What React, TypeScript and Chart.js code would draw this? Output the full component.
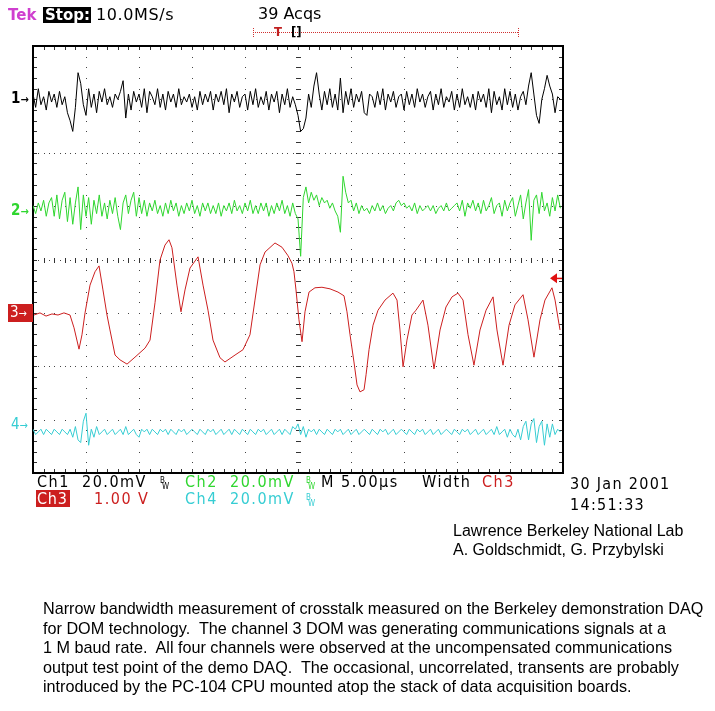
import React, { useEffect, useRef } from "react";
import { Chart, registerables } from "chart.js";
Chart.register(...registerables);

// ---- acquisition settings ----
const SAMPLE_US = 0.25; // µs between plotted samples
const TIME_PER_DIV_US = 5;
const CH1_MV_PER_DIV = 20;
const CH2_MV_PER_DIV = 20;
const CH3_V_PER_DIV = 1;
const CH4_MV_PER_DIV = 20;
const CH1_POS_DIV = 3.0;
const CH2_POS_DIV = 0.96;
const CH3_POS_DIV = -1.03;
const CH4_POS_DIV = -3.23;
const TRIGGER_LEVEL_V = 0.68;

// ---- channel 1 (mV) ----
const CH1_MV = [
  2, -3, 4, -2, 1, -4, 3, -1, 2, -3,
  3, -2, 1, -5, -8, -12, -3, 10, 6, -2,
  -6, 4, -3, 2, -5, 3, -1, 4, -2, 1,
  -3, 2, 0, 3, 7, -7, 2, -4, 3, -1,
  2, -3, 4, -5, 3, 1, -2, 4, -3, 2,
  -4, 3, -1, 2, -3, 4, -2, 1, -1, 2,
  -3, 1, -4, 3, -2, 2, -1, 3, -4, 2,
  -1, 3, -2, 4, -5, 2, -1, 3, -3, 1,
  2, -4, 3, -2, 4, -3, 1, -2, 3, -4,
  2, -1, 3, -5, 2, -2, 4, -3, 1, -2,
  -6, -12, -11, -7, 2, -3, 5, 10, 2, -4,
  3, -2, 4, -3, 2, -4, 8, -5, 3, -2,
  4, -3, 2, -1, 3, -5, -6, 2, 1, -3,
  3, -2, 4, -4, 2, -1, 3, -3, 1, 2,
  -4, 3, -2, 2, -3, 4, -1, 2, -3, 1,
  3, -4, 2, -2, 4, -3, 1, -1, 3, -4,
  2, -3, 4, -2, 1, -3, 2, -4, 3, -1,
  2, -3, 4, -5, 3, -2, 1, -4, 4, -2,
  3, -3, 2, -4, 1, 3, -2, 5, 10, 2,
  -6, -9, 0, 4, 9, 5, 2, -5, 1, 0,
];

// ---- channel 2 (mV) ----
const CH2_MV = [
  1, -2, 2, -1, 3, -3, 2, 4, -3, 5,
  -4, 3, 6, -5, 4, -6, 2, 8, -8, 5,
  -3, 4, -6, 3, -2, 5, -3, 2, -4, 3,
  -2, 4, -3, -8, 2, 5, -2, 3, 6, -3,
  4, -2, 3, -3, 2, -1, 3, -2, 1, -3,
  2, -2, 3, -1, 2, -3, 1, -2, 2, -1,
  3, -2, 1, -3, 2, -1, 2, -2, 1, -2,
  2, -3, 1, -1, 2, -2, 3, -1, 1, -2,
  2, -1, 3, -2, 1, -2, 2, -1, 2, -3,
  1, -2, 2, -1, 3, -2, 1, -3, 2, -2,
  -4, -18, 4, 8, 2, 6, 3, 5, 1, 4,
  2, 3, 0, 2, -1, -3, -9, 12, 6, 2,
  3, -1, 2, -2, 1, -1, 0, -2, 1, -1,
  2, -1, 1, -2, 0, 1, -1, 2, 3, 1,
  2, 0, 1, -1, 2, -2, 1, -1, 0, 1,
  -1, 1, -2, 0, 1, -1, 2, -1, 0, 1,
  2, -1, 3, -3, 2, 0, 3, -1, 2, -2,
  3, -1, 1, 4, -2, 1, 2, -3, 3, -1,
  2, 4, -3, 1, 5, -4, 2, 7, -12, 3,
  5, -2, 6, -1, 2, -3, 4, -1, 5, 0,
];

// ---- channel 4 (mV) ----
const CH4_MV = [
  1, -1, 0, 1, -1, 1, 0, -1, 1, 0,
  -1, 1, 0, -1, 1, -2, 2, -3, -4, 4,
  7, -5, 1, -2, 2, -1, 0, 1, -1, 0,
  1, -1, 0, 1, -1, 2, -1, 0, 1, -1,
  -2, 1, 0, 1, -1, 1, 0, -1, 1, 0,
  1, -1, 1, 0, -1, 1, 0, 1, -1, 0,
  1, 0, -1, 1, 0, -1, 1, 0, 1, -1,
  0, 1, -1, 0, 1, -1, 1, 0, -1, 1,
  0, -1, 1, 0, -1, 1, 0, 1, -1, 0,
  1, -1, 0, 1, -1, 1, 0, -1, 2, 1,
  3, -1, 2, -2, 1, 0, 1, -1, 1, 0,
  -1, 1, 0, -1, 1, 0, 1, -1, 0, 1,
  -1, 0, 1, -1, 0, 1, 0, -1, 1, 0,
  -1, 1, 0, 1, -1, 0, 1, -1, 0, 1,
  0, -1, 1, 0, -1, 1, 0, 1, -1, 0,
  1, -1, 0, 1, -1, 0, 1, 0, -1, 1,
  0, -1, 1, 0, 1, -1, 0, 1, -1, 0,
  1, -1, 0, 1, -1, 2, -1, 0, 1, -2,
  1, -1, -2, 1, -3, 2, 4, -3, 3, 5,
  -4, 2, 4, -5, 3, -2, 3, -1, 1, 0,
];

// ---- channel 3 (time µs, volts) ----
const CH3_T_US = [
  0.09, 0.66, 1.23, 1.79, 2.36, 2.92, 3.49, 3.87, 4.34, 4.62,
  4.91, 5.38, 5.85, 6.23, 6.60, 6.98, 7.26, 7.74, 8.21, 8.87,
  9.62, 10.57, 11.04, 11.51, 11.98, 12.45, 12.83, 13.11, 13.58, 13.96,
  14.34, 14.81, 15.57, 16.04, 16.51, 16.98, 17.64, 18.11, 19.06, 19.81,
  20.47, 20.94, 21.42, 21.89, 22.83, 23.49, 24.06, 24.43, 24.62, 24.81,
  25.09, 25.38, 25.66, 26.04, 26.60, 27.26, 28.02, 28.77, 29.34, 29.62,
  29.91, 30.28, 30.57, 30.85, 31.23, 31.42, 31.70, 32.08, 32.55, 33.21,
  33.96, 34.34, 34.62, 34.91, 35.28, 35.75, 36.13, 36.79, 37.26, 37.83,
  38.40, 38.96, 39.53, 40.09, 40.57, 41.04, 41.60, 42.17, 42.74, 43.40,
  43.77, 44.34, 44.91, 45.47, 46.23, 46.70, 47.26, 47.83, 48.30, 48.96,
  49.25, 49.53, 49.72,
];
const CH3_V = [
  -0.01, 0.03, -0.03, 0.01, -0.01, 0.03, -0.01, -0.25, -0.65, -0.38,
  0.03, 0.55, 0.80, 0.91, 0.46, -0.01, -0.29, -0.76, -0.85, -0.93,
  -0.80, -0.63, -0.48, 0.22, 1.02, 1.30, 1.40, 1.25, 0.55, 0.05,
  0.46, 0.87, 1.08, 0.55, 0.08, -0.48, -0.81, -0.89, -0.76, -0.66,
  -0.38, 0.27, 0.93, 1.17, 1.34, 1.26, 1.10, 0.96, 0.80, 0.46,
  -0.10, -0.51, 0.05, 0.42, 0.50, 0.51, 0.48, 0.42, 0.35, 0.05,
  -0.38, -0.89, -1.32, -1.45, -1.41, -1.13, -0.66, -0.20, 0.08, 0.27,
  0.40, 0.27, -0.29, -0.98, -0.48, -0.01, 0.08, 0.27, -0.20, -1.02,
  -0.29, 0.14, 0.33, 0.40, 0.27, -0.38, -0.95, -0.29, 0.08, 0.33,
  -0.29, -0.95, -0.20, 0.18, 0.37, -0.10, -0.80, -0.10, 0.27, 0.50,
  0.27, -0.07, -0.29,
];

const PARAGRAPH = [
  "Narrow bandwidth measurement of crosstalk measured on the Berkeley demonstration DAQ",
  "for DOM technology.  The channel 3 DOM was generating communications signals at a",
  "1 M baud rate.  All four channels were observed at the uncompensated communications",
  "output test point of the demo DAQ.  The occasional, uncorrelated, transents are probably",
  "introduced by the PC-104 CPU mounted atop the stack of data acquisition boards.",
];

const GREEN = "#2fd62f";
const RED = "#cc1f1f";
const CYAN = "#36cdd3";
const MAGENTA = "#cf3fcf";
const SCOPE_FONT = '"DejaVu Sans Condensed", "Liberation Sans Narrow", "DejaVu Sans", sans-serif';
const ARIAL = '"Liberation Sans", Arial, sans-serif';

const noiseSeries = (vals: number[], pos: number, perDiv: number) =>
  vals.map((v, i) => ({ x: (i * SAMPLE_US) / TIME_PER_DIV_US, y: pos + v / perDiv }));

const gridPlugin = {
  id: "scopeGrid",
  beforeDatasetsDraw(chart: any) {
    const { ctx, chartArea: a } = chart;
    const L = a.left, R = a.right, T = a.top, B = a.bottom;
    const dx = (R - L) / 10, dy = (B - T) / 8;
    ctx.save();
    ctx.fillStyle = "#444";
    for (let i = 1; i < 10; i++) {
      const x = Math.round(L + i * dx);
      for (let k = 1; k < 40; k++) ctx.fillRect(x, Math.round(T + (k * dy) / 5), 1, 1);
    }
    for (let j = 1; j < 8; j++) {
      const y = Math.round(T + j * dy);
      const n = j % 2 === 0 ? 10 : 5;
      for (let k = 1; k < 10 * n; k++) ctx.fillRect(Math.round(L + (k * dx) / n), y, 1, 1);
    }
    ctx.fillStyle = "#333";
    const cx = Math.round(L + 5 * dx), cy = Math.round(T + 4 * dy);
    for (let k = 1; k < 50; k++) ctx.fillRect(Math.round(L + (k * dx) / 5), cy - 2, 1, 5);
    for (let k = 1; k < 40; k++) ctx.fillRect(cx - 2, Math.round(T + (k * dy) / 5), 5, 1);
    for (let k = 1; k < 50; k++) {
      const x = Math.round(L + (k * dx) / 5);
      ctx.fillRect(x, T, 1, 4);
      ctx.fillRect(x, B - 4, 1, 4);
    }
    for (let k = 1; k < 40; k++) {
      const y = Math.round(T + (k * dy) / 5);
      ctx.fillRect(L, y, 4, 1);
      ctx.fillRect(R - 4, y, 4, 1);
    }
    ctx.fillStyle = "#000";
    ctx.fillRect(L - 1, T - 1, R - L + 2, 2);
    ctx.fillRect(L - 1, B - 1, R - L + 2, 2);
    ctx.fillRect(L - 1, T - 1, 2, B - T + 2);
    ctx.fillRect(R - 1, T - 1, 2, B - T + 2);
    ctx.restore();
  },
  afterDatasetsDraw(chart: any) {
    const { ctx, chartArea: a, scales } = chart;
    const y = scales.y.getPixelForValue(CH3_POS_DIV + TRIGGER_LEVEL_V / CH3_V_PER_DIV);
    ctx.save();
    ctx.fillStyle = "#e01010";
    ctx.beginPath();
    ctx.moveTo(a.right - 13, y);
    ctx.lineTo(a.right - 6, y - 5);
    ctx.lineTo(a.right - 6, y + 5);
    ctx.closePath();
    ctx.fill();
    ctx.fillRect(a.right - 7, y - 0.5, 6, 1.5);
    ctx.restore();
  },
  afterDraw(chart: any) {
    const { ctx } = chart;
    ctx.save();
    ctx.strokeStyle = "#d03030";
    ctx.lineWidth = 1;
    ctx.setLineDash([1, 1]);
    ctx.beginPath();
    ctx.moveTo(253, 32.5);
    ctx.lineTo(519, 32.5);
    ctx.moveTo(253.5, 28);
    ctx.lineTo(253.5, 37);
    ctx.moveTo(518.5, 28);
    ctx.lineTo(518.5, 37);
    ctx.stroke();
    ctx.restore();
  },
};

function Txt(props: any) {
  const { x, y, size = 16, color = "#000", family = SCOPE_FONT, weight = "normal", children, spacing = 1.5, lh } = props;
  return (
    <div
      style={{
        position: "absolute",
        left: x,
        top: y,
        fontSize: size,
        lineHeight: lh ? lh + "px" : "1",
        color,
        fontFamily: family,
        fontWeight: weight,
        whiteSpace: "pre",
        letterSpacing: spacing,
      }}
    >
      {children}
    </div>
  );
}

function BW({ x, y, color }: any) {
  return (
    <>
      <Txt x={x} y={y} size={8} spacing={0} color={color}>B</Txt>
      <Txt x={x + 2} y={y + 6} size={8} spacing={0} color={color}>W</Txt>
    </>
  );
}

export default function App() {
  const ref = useRef<HTMLCanvasElement | null>(null);
  useEffect(() => {
    const canvas = ref.current!;
    const chart = new Chart(canvas, {
      type: "line",
      data: {
        datasets: [
          { data: noiseSeries(CH4_MV, CH4_POS_DIV, CH4_MV_PER_DIV), borderColor: CYAN },
          { data: CH3_T_US.map((t, i) => ({ x: t / TIME_PER_DIV_US, y: CH3_POS_DIV + CH3_V[i] / CH3_V_PER_DIV })), borderColor: RED },
          { data: noiseSeries(CH2_MV, CH2_POS_DIV, CH2_MV_PER_DIV), borderColor: GREEN },
          { data: noiseSeries(CH1_MV, CH1_POS_DIV, CH1_MV_PER_DIV), borderColor: "#000" },
        ].map((d) => ({ ...d, borderWidth: 1, pointRadius: 0, tension: 0, fill: false })),
      },
      options: {
        animation: false,
        responsive: false,
        events: [],
        layout: { padding: { left: 33, top: 46, right: 152, bottom: 238 } },
        plugins: { legend: { display: false }, tooltip: { enabled: false } },
        scales: {
          x: { type: "linear", min: 0, max: 10, display: false },
          y: { type: "linear", min: -4, max: 4, display: false },
        },
      },
      plugins: [gridPlugin],
    });
    return () => chart.destroy();
  }, []);

  const DJ = '"DejaVu Sans", sans-serif';
  return (
    <div style={{ position: "absolute", left: 0, top: 0, width: 715, height: 711, background: "#fff", overflow: "hidden" }}>
      <canvas ref={ref} width={715} height={711} style={{ position: "absolute", left: 0, top: 0, width: 715, height: 711 }} />
      {/* header */}
      <Txt x={8} y={8} size={15} spacing={0} color={MAGENTA} weight="bold" family={DJ}>Tek</Txt>
      <div style={{ position: "absolute", left: 43, top: 7, width: 48, height: 16, background: "#000" }} />
      <Txt x={45} y={8} size={15} spacing={0} color="#fff" weight="bold" family={DJ}>Stop:</Txt>
      <Txt x={96} y={7} size={16} spacing={0.6} family={DJ}>10.0MS/s</Txt>
      <Txt x={258} y={6} size={16} spacing={0} family={DJ}>39 Acqs</Txt>
      <Txt x={274} y={25} size={13} spacing={0} color="#c02020" weight="bold">T</Txt>
      <Txt x={291} y={25} size={13} spacing={0} weight="bold">[]</Txt>
      {/* channel ground markers */}
      <Txt x={11} y={91} size={15} spacing={0} weight="bold">1<span style={{ fontSize: 11 }}>→</span></Txt>
      <Txt x={11} y={203} size={15} spacing={0} weight="bold" color={GREEN}>2<span style={{ fontSize: 11 }}>→</span></Txt>
      <div style={{ position: "absolute", left: 8, top: 304, width: 25, height: 18, background: RED }} />
      <Txt x={10} y={305} size={15} spacing={0} color="#fff">3<span style={{ fontSize: 11 }}>→</span></Txt>
      <Txt x={11} y={417} size={15} spacing={0} color={CYAN}>4<span style={{ fontSize: 11 }}>→</span></Txt>
      {/* bottom readouts */}
      <Txt x={37} y={474}>Ch1</Txt>
      <Txt x={82} y={474}>20.0mV</Txt>
      <BW x={160} y={477} color="#000" />
      <Txt x={185} y={474} color={GREEN}>Ch2</Txt>
      <Txt x={230} y={474} color={GREEN}>20.0mV</Txt>
      <BW x={306} y={477} color={GREEN} />
      <Txt x={321} y={474}>M 5.00µs</Txt>
      <Txt x={422} y={474}>Width</Txt>
      <Txt x={482} y={474} color={RED}>Ch3</Txt>
      <div style={{ position: "absolute", left: 36, top: 490, width: 34, height: 17, background: RED }} />
      <Txt x={37} y={491} spacing={0.8} color="#fff">Ch3</Txt>
      <Txt x={94} y={491} color={RED}>1.00 V</Txt>
      <Txt x={185} y={491} color={CYAN}>Ch4</Txt>
      <Txt x={230} y={491} color={CYAN}>20.0mV</Txt>
      <BW x={306} y={494} color={CYAN} />
      <Txt x={570} y={476} size={16} spacing={1.3}>30 Jan 2001</Txt>
      <Txt x={570} y={497} size={16} spacing={1.3}>14:51:33</Txt>
      <Txt x={453} y={521} size={16} spacing={0} family={ARIAL} lh={19}>{"Lawrence Berkeley National Lab\nA. Goldschmidt, G. Przybylski"}</Txt>
      <Txt x={43} y={599} size={16.2} spacing={0} family={ARIAL} lh={19.5}>{PARAGRAPH.join("\n")}</Txt>
    </div>
  );
}
